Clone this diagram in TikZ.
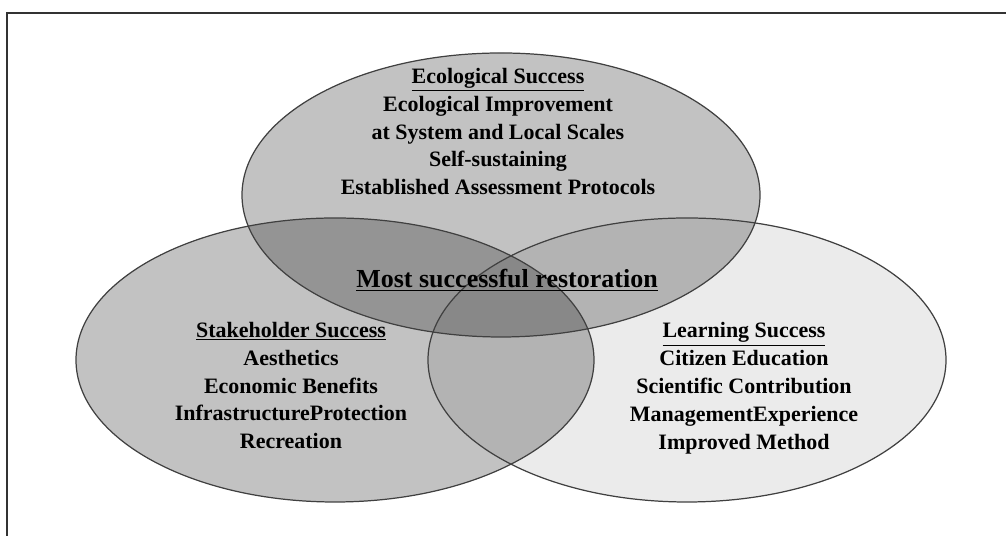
\documentclass[tikz,border=0pt]{standalone}
\usepackage{fontspec}
\setmainfont{Liberation Serif}
\usepackage{tikz}
\tikzset{
	venn/.style={draw=black!75, line width=0.7pt},
	lbl/.style={align=center, font=\bfseries\fontsize{12.5}{15.9}\selectfont},
}

\begin{document}
\begin{tikzpicture}
			\useasboundingbox (0,0) rectangle (20.12,10.72);
			\draw[black!80, line width=0.8pt] (0.14,0) -- (0.14,10.46) -- (20.12,10.46);
			\fill[black, fill opacity=0.24] (10.02,6.82) ellipse (5.18 and 2.84);
			\fill[black, fill opacity=0.24] (6.70,3.52) ellipse (5.18 and 2.84);
			\fill[black, fill opacity=0.08] (13.74,3.52) ellipse (5.18 and 2.84);
			\draw[venn] (10.02,6.82) ellipse (5.18 and 2.84);
			\draw[venn] (6.70,3.52) ellipse (5.18 and 2.84);
			\draw[venn] (13.74,3.52) ellipse (5.18 and 2.84);
			\node[lbl] (eco) at (9.96,8.09) {\underline{Ecological Success}\\Ecological Improvement\\at System and Local Scales\\Self-sustaining\\Established Assessment Protocols};
			\node[lbl] (stake) at (5.82,3.01) {\underline{Stakeholder Success}\\Aesthetics\\Economic Benefits\\InfrastructureProtection\\Recreation};
			\node[lbl] (learn) at (14.88,2.95) {\underline{Learning Success}\\Citizen Education\\Scientific Contribution\\ManagementExperience\\Improved Method};
			\node[lbl, font=\bfseries\fontsize{14.8}{17}\selectfont] (best) at (10.14,5.12) {\underline{Most successful restoration}};
		\end{tikzpicture}
\end{document}
